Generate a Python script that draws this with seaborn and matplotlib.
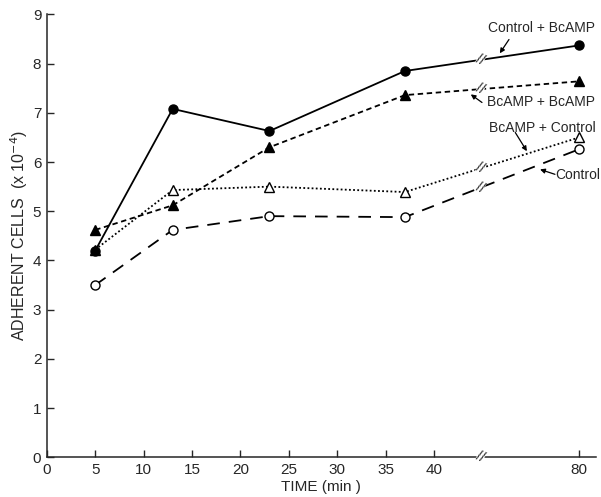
import numpy as np
import pandas as pd
import matplotlib
matplotlib.use('Agg')
import matplotlib.pyplot as plt
import seaborn as sns

# data
time_min = [5, 13, 23, 37, 80]
ctrl_bcamp = [4.2, 7.08, 6.63, 7.85, 8.37]
bcamp_bcamp = [4.62, 5.12, 6.3, 7.36, 7.64]
bcamp_ctrl = [4.22, 5.43, 5.5, 5.39, 6.5]
control = [3.5, 4.62, 4.9, 4.88, 6.26]

x_ticks = [0, 5, 10, 15, 20, 25, 30, 35, 40, 80]
y_ticks = [0, 1, 2, 3, 4, 5, 6, 7, 8, 9]

# broken axis: 80 min is drawn at position 55
def xpos(t):
    return [v if v <= 40 else v - 25 for v in t]

BREAK_X = 44.8

sns.set_style('ticks')
plt.rcParams['font.family'] = ['Liberation Sans', 'DejaVu Sans']

fig = plt.figure(figsize=(6.01, 4.97), dpi=100)
ax = fig.add_axes([0.078, 0.080, 0.913, 0.891])

series = [
    ('Control + BcAMP', ctrl_bcamp, 'o', 'black', '-', 5),
    ('BcAMP + BcAMP', bcamp_bcamp, '^', 'black', (0, (3, 2)), 4),
    ('BcAMP + Control', bcamp_ctrl, '^', 'white', (0, (1, 1.3)), 3),
    ('Control', control, 'o', 'white', (0, (7, 5)), 2),
]

def break_mark(x, y, clip=True):
    ax.text(x, y, '//', fontsize=10, ha='center', va='center', rotation=-25,
            clip_on=clip, zorder=6,
            bbox=dict(boxstyle='square,pad=0.0', fc='white', ec='none'))

xs = xpos(time_min)
for name, vals, mk, fc, ls, z in series:
    df = pd.DataFrame({'x': xs, 'y': vals})
    sns.lineplot(data=df, x='x', y='y', ax=ax, color='black', lw=1.3,
                 marker=mk, markersize=6.5, markerfacecolor=fc,
                 markeredgecolor='black', markeredgewidth=1.0,
                 sort=False, linestyle=ls, zorder=z)
    # break marks on each line
    yb = np.interp(BREAK_X, [xs[3], xs[4]], [vals[3], vals[4]])
    break_mark(BREAK_X, yb)

break_mark(BREAK_X, 0, clip=False)

ax.set_xlim(0, 56.7)
ax.set_ylim(0, 9)
ax.set_xticks(xpos(x_ticks))
ax.set_xticklabels([str(t) for t in x_ticks], fontsize=11)
ax.set_yticks(y_ticks)
ax.set_yticklabels([str(t) for t in y_ticks], fontsize=11)
ax.tick_params(direction='in', length=5, width=1, pad=4)
sns.despine(ax=ax)
ax.spines['left'].set_linewidth(1.1)
ax.spines['bottom'].set_linewidth(1.1)

ax.set_xlabel('TIME (min )', fontsize=11, labelpad=2)
ax.set_ylabel('ADHERENT CELLS  (x 10$^{-4}$)', fontsize=11.5, labelpad=2)

# labels with leader lines
labels = [
    ('Control + BcAMP', (51.1, 8.72), (47.75, 8.49), (46.8, 8.21)),
    ('BcAMP + BcAMP', (51.1, 7.21), (44.96, 7.21), (43.8, 7.375)),
    ('BcAMP + Control', (51.2, 6.70), (48.4, 6.60), (49.6, 6.22)),
    ('Control', (54.9, 5.73), (52.5, 5.75), (50.96, 5.85)),
]
for txt, tpos, start, tip in labels:
    ax.text(tpos[0], tpos[1], txt, fontsize=10, ha='center', va='center', clip_on=False)
    ax.annotate('', xy=tip, xytext=start,
                arrowprops=dict(arrowstyle='-|>', color='black', lw=0.9,
                                mutation_scale=7, shrinkA=0, shrinkB=0))

fig.savefig('out.png', dpi=100)
